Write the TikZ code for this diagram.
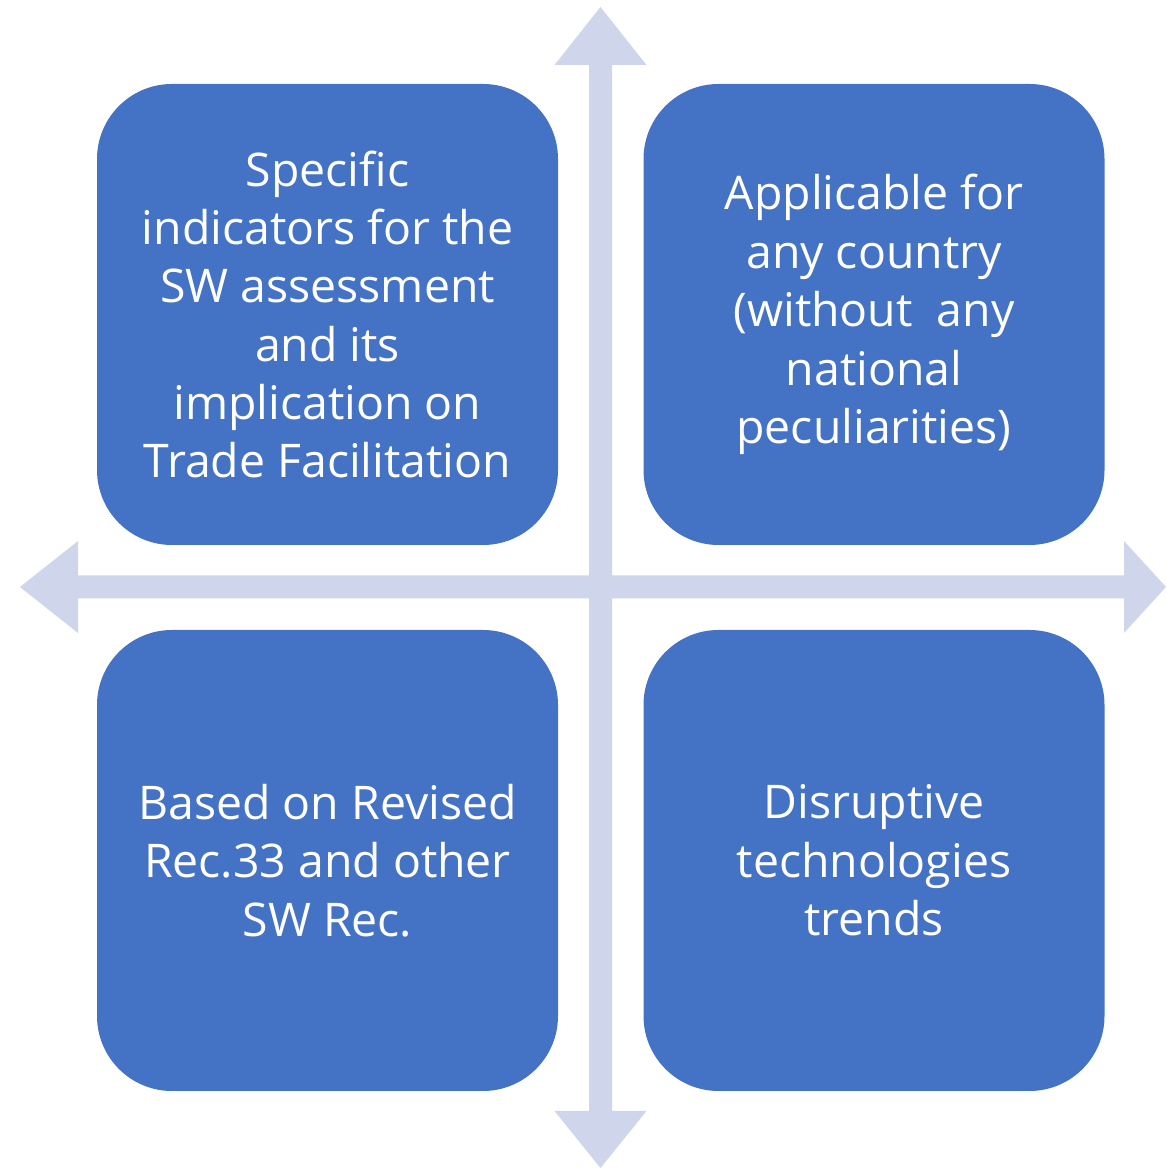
\documentclass[tikz,border=0pt]{standalone}
\usepackage{fontspec}
\setmainfont{Open Sans}
\usetikzlibrary{calc}
\definecolor{boxblue}{HTML}{4472C4}
\definecolor{crossgray}{HTML}{CFD5EA}
\tikzstyle{boxstyle}=[fill=boxblue,text=white,rounded corners=0.75cm,minimum width=4.61cm,minimum height=4.61cm,align=center,inner sep=0pt,font=\fontsize{13.2}{16.6}\selectfont]
\tikzstyle{crossstyle}=[fill=crossgray,draw=none]

\begin{document}
\begin{tikzpicture}

      % fix the page to the size of the picture
      \useasboundingbox (0,0) rectangle (11.66,11.69);

      % make these defs here so that I can change all after
      \def\cx{6.005} % x of the vertical arrow
      \def\cy{5.82} % y of the horizontal arrow
      \def\shaft{0.115} % half width of the arrow shafts
      \def\head{0.46} % half width of the arrow heads

      % Draw the two double arrows
      % vertical one
      \fill[crossstyle] (\cx,11.62) -- (\cx+\head,11.04) -- (\cx+\shaft,11.04) -- (\cx+\shaft,0.58)
            -- (\cx+\head,0.58) -- (\cx,0.01) -- (\cx-\head,0.58) -- (\cx-\shaft,0.58)
            -- (\cx-\shaft,11.04) -- (\cx-\head,11.04) -- cycle;
      % horizontal one
      \fill[crossstyle] (0.20,\cy) -- (0.78,\cy+\head) -- (0.78,\cy+\shaft) -- (11.24,\cy+\shaft)
            -- (11.24,\cy+\head) -- (11.66,\cy) -- (11.24,\cy-\head) -- (11.24,\cy-\shaft)
            -- (0.78,\cy-\shaft) -- (0.78,\cy-\head) -- cycle;

      % Draw boxes at nodes
      % define first row of boxes
      \node[boxstyle] at (3.275,8.545) (q1) {Specific\\indicators for the\\SW assessment\\and its\\implication on\\Trade Facilitation};
      \node[boxstyle] at (8.74,8.545) (q2) {Applicable for\\any country\\(without\ \ any\\national\\peculiarities)};
      % define second row of boxes
      \node[boxstyle] at (3.275,3.085) (q3) {Based on Revised\\Rec.33 and other\\SW Rec.};
      \node[boxstyle] at (8.74,3.085) (q4) {Disruptive\\technologies\\trends};

\end{tikzpicture}
\end{document}
